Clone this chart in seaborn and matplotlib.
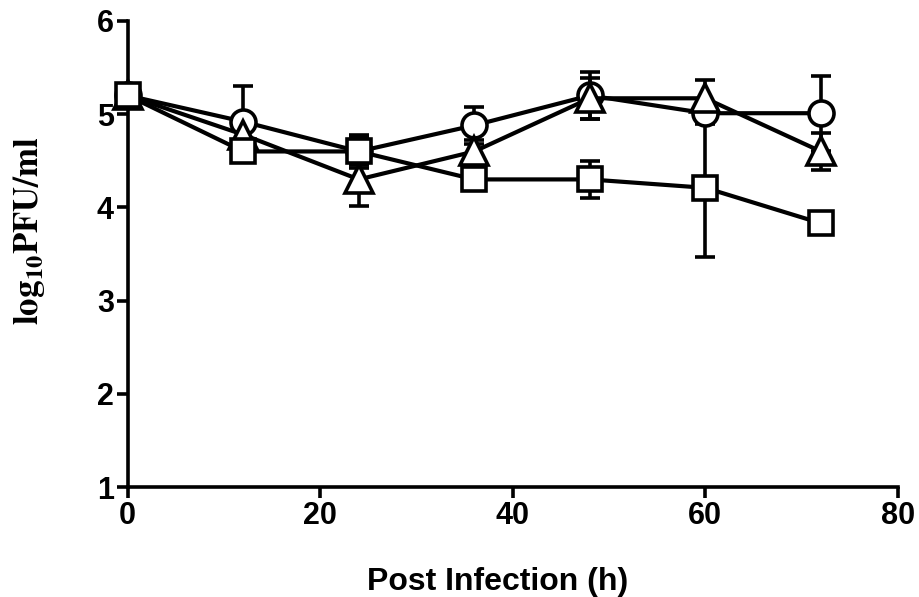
import numpy as np
import pandas as pd
import matplotlib
matplotlib.use("Agg")
import matplotlib.pyplot as plt
import seaborn as sns

### data
hours = [0, 12, 24, 36, 48, 60, 72]
circle_mean = [5.2, 4.92, 4.6, 4.88, 5.2, 5.01, 5.01]
circle_err = [0.05, 0.38, 0.15, 0.2, 0.25, 0.12, 0.4]
triangle_mean = [5.2, 4.78, 4.3, 4.6, 5.17, 5.17, 4.6]
triangle_err = [0.05, 0.1, 0.28, 0.12, 0.22, 0.2, 0.2]
square_mean = [5.2, 4.6, 4.6, 4.3, 4.3, 4.21, 3.83]
square_err = [0.05, 0.05, 0.18, 0.05, 0.2, 0.74, 0.05]

series = {"circle": (circle_mean, circle_err),
          "triangle": (triangle_mean, triangle_err),
          "square": (square_mean, square_err)}
markers = {"circle": "o", "triangle": "^", "square": "s"}
sizes = {"circle": 18, "triangle": 20, "square": 17}

rows = []
for name, (m, e) in series.items():
    for h, v in zip(hours, m):
        rows.append({"hour": h, "value": v, "group": name})
df = pd.DataFrame(rows)

sns.set_style("ticks")
plt.rcParams["font.family"] = ["Liberation Sans", "DejaVu Sans"]
plt.rcParams["mathtext.fontset"] = "stix"
for k in ["text.color", "axes.labelcolor", "xtick.color", "ytick.color", "axes.edgecolor"]:
    plt.rcParams[k] = "black"

fig = plt.figure(figsize=(9.19, 5.97), dpi=100)
ax = fig.add_axes([0.139, 0.184, 0.838, 0.781])

### error bars behind the markers
for name, (m, e) in series.items():
    eb = ax.errorbar(hours, m, yerr=e, fmt="none", ecolor="black", elinewidth=2.6,
                     capsize=7, capthick=2.6, zorder=1)
    for art in eb.lines[1] + eb.lines[2]:
        art.set_clip_on(False)

### lines + open markers
for name in series:
    sub = df[df["group"] == name]
    sns.lineplot(data=sub, x="hour", y="value", ax=ax, color="black", linewidth=3,
                 marker=markers[name], markersize=sizes[name], markerfacecolor="white",
                 markeredgecolor="black", markeredgewidth=2.6, zorder=3, legend=False,
                 clip_on=False)

ax.set_xlim(0, 80)
ax.set_ylim(1, 6)
ax.set_xticks([0, 20, 40, 60, 80])
ax.set_yticks([1, 2, 3, 4, 5, 6])
sns.despine(ax=ax)
for s in ["left", "bottom"]:
    ax.spines[s].set_linewidth(2.6)
    ax.spines[s].set_zorder(0)
ax.tick_params(direction="out", length=8, width=2.6, labelsize=22, pad=2)
for lab in ax.get_xticklabels() + ax.get_yticklabels():
    lab.set_fontweight("bold")

ax.set_xlabel("Post Infection (h)", fontsize=23, fontweight="bold")
ax.xaxis.set_label_coords(0.48, -0.172)
ax.set_ylabel(r"$\mathbf{log_{10}PFU/ml}$", fontsize=25)
ax.yaxis.set_label_coords(-0.105, 0.55)

plt.savefig("out.png", dpi=100)
